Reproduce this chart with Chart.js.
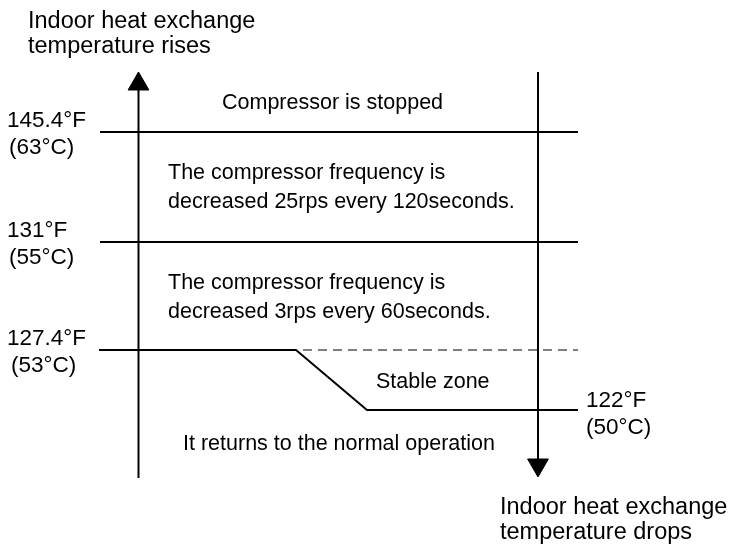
<!DOCTYPE html>
<html>
<head>
<meta charset="utf-8">
<script src="https://cdn.jsdelivr.net/npm/chart.js@4"></script>
<style>
  html, body { margin: 0; padding: 0; background: #fff; }
  #wrap { width: 733px; height: 545px; }
</style>
</head>
<body>
<div id="wrap"><canvas id="c" width="733" height="545"></canvas></div>
<script>
// ---- Data (diagram units: x across, y down the page) ----
const thresholdF = ['145.4°F', '131°F', '127.4°F', '122°F'];
const thresholdC = ['(63°C)', '(55°C)', '(53°C)', '(50°C)'];
const zoneTexts = [
  ['Compressor is stopped'],
  ['The compressor frequency is', 'decreased 25rps every 120seconds.'],
  ['The compressor frequency is', 'decreased 3rps every 60seconds.'],
  ['Stable zone'],
  ['It returns to the normal operation']
];
const axisTexts = [
  ['Indoor heat exchange', 'temperature rises'],
  ['Indoor heat exchange', 'temperature drops']
];
// threshold line levels (diagram y)
const levelStopY = 132;
const levelDecr25Y = 242;
const levelDecr3Y = 350;
const levelReturnY = 410;
// line paths
const lineStop = [{x: 100, y: levelStopY}, {x: 578, y: levelStopY}];
const line25 = [{x: 100, y: levelDecr25Y}, {x: 578, y: levelDecr25Y}];
const lineStable = [{x: 99, y: levelDecr3Y}, {x: 296, y: levelDecr3Y}, {x: 367, y: levelReturnY}, {x: 578, y: levelReturnY}];
const lineDashed = [{x: 303, y: levelDecr3Y}, {x: 578, y: levelDecr3Y}];
const axisRise = [{x: 138.5, y: 478}, {x: 138.5, y: 88}];
const axisDrop = [{x: 538, y: 72}, {x: 538, y: 462}];
const arrowRise = [{x: 138.5, y: 84}];
const arrowDrop = [{x: 538, y: 465}];

// ---- Text layout ----
const FONT = '21.5px "Liberation Sans", Arial, sans-serif';
const FONT_AXIS = '23.5px "Liberation Sans", Arial, sans-serif';
const FONT_LEVEL = '22.5px "Liberation Sans", Arial, sans-serif';
const textLayout = [
  {lines: axisTexts[0], x: 28, y: 28, lh: 25, font: FONT_AXIS},
  {lines: axisTexts[1], x: 500, y: 514, lh: 25, font: FONT_AXIS},
  {lines: [thresholdF[0], thresholdC[0]], x: [7, 9], y: 127, lh: 27, font: FONT_LEVEL},
  {lines: [thresholdF[1], thresholdC[1]], x: [7, 9], y: 237, lh: 27, font: FONT_LEVEL},
  {lines: [thresholdF[2], thresholdC[2]], x: [7, 11], y: 345, lh: 27, font: FONT_LEVEL},
  {lines: [thresholdF[3], thresholdC[3]], x: [586, 586], y: 407, lh: 27, font: FONT_LEVEL},
  {lines: zoneTexts[0], x: 222, y: 109, lh: 29},
  {lines: zoneTexts[1], x: 168, y: 179, lh: 29},
  {lines: zoneTexts[2], x: 168, y: 289, lh: 29},
  {lines: zoneTexts[3], x: 376, y: 388, lh: 29},
  {lines: zoneTexts[4], x: 183, y: 450, lh: 29}
];

const textPlugin = {
  id: 'diagramText',
  afterDatasetsDraw(chart) {
    const {ctx, scales} = chart;
    ctx.save();
    ctx.fillStyle = '#000';
    ctx.textBaseline = 'alphabetic';
    ctx.textAlign = 'left';
    textLayout.forEach(t => {
      ctx.font = t.font || FONT;
      t.lines.forEach((s, i) => {
        const xx = Array.isArray(t.x) ? t.x[i] : t.x;
        ctx.fillText(s, scales.x.getPixelForValue(xx), scales.y.getPixelForValue(t.y + i * t.lh));
      });
    });
    ctx.restore();
  }
};

const solid = (data) => ({
  data, showLine: true, borderColor: '#000', borderWidth: 2,
  pointRadius: 0, pointHoverRadius: 0, fill: false, tension: 0,
  borderJoinStyle: 'miter', borderCapStyle: 'butt', clip: false
});
const arrow = (data, rot) => ({
  data, showLine: false, pointStyle: 'triangle', pointRadius: 12,
  pointRotation: rot, backgroundColor: '#000', borderColor: '#000', borderWidth: 1,
  pointHoverRadius: 12, clip: false
});

new Chart(document.getElementById('c'), {
  type: 'scatter',
  data: {
    datasets: [
      solid(lineStop),
      solid(line25),
      solid(lineStable),
      Object.assign(solid(lineDashed), {borderColor: '#555', borderWidth: 1.5, borderDash: [9, 6]}),
      solid(axisRise),
      solid(axisDrop),
      arrow(arrowRise, 0),
      arrow(arrowDrop, 180)
    ]
  },
  options: {
    responsive: false,
    animation: false,
    events: [],
    layout: {padding: 0, autoPadding: false},
    plugins: {legend: {display: false}, tooltip: {enabled: false}},
    scales: {
      x: {type: 'linear', min: 0, max: 733, display: false},
      y: {type: 'linear', min: 0, max: 545, reverse: true, display: false}
    }
  },
  plugins: [textPlugin]
});
</script>
</body>
</html>
